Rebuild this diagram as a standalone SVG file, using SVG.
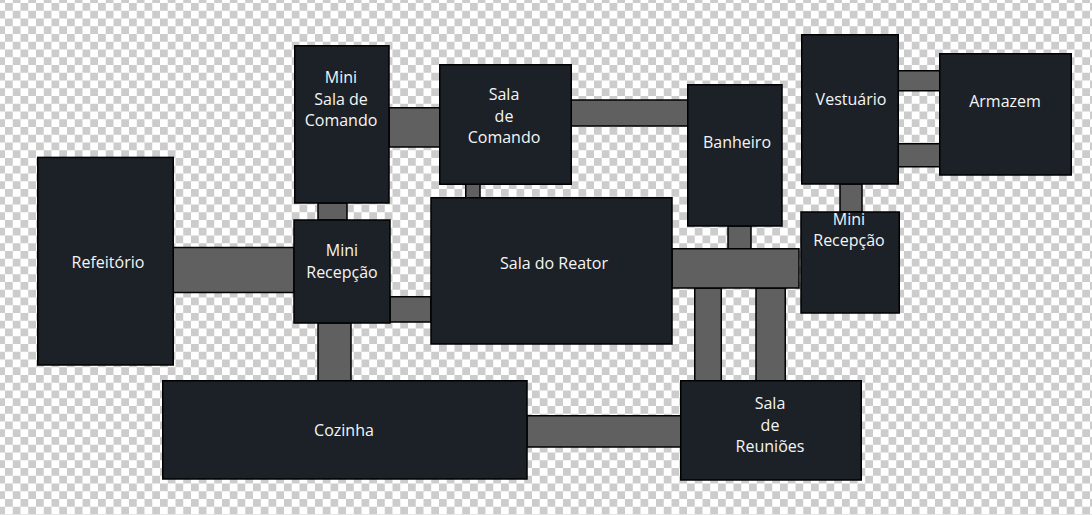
<svg xmlns="http://www.w3.org/2000/svg" width="1092" height="515" viewBox="0 0 1092 515">
<style>
.room{fill:#1c2128;stroke:#000;stroke-width:1.5}
.link{fill:#606060;stroke:#000;stroke-width:1.5}
text{font-family:"Open Sans","Noto Sans",sans-serif;font-size:16px;fill:#f5f5f5;text-anchor:middle}
</style>
<defs>
<pattern id="chk" x="5" y="3" width="15.5" height="15.5" patternUnits="userSpaceOnUse">
<rect width="15.5" height="15.5" fill="#fff"/>
<rect width="7.75" height="7.75" fill="#ccc"/>
<rect x="7.75" y="7.75" width="7.75" height="7.75" fill="#ccc"/>
</pattern>
</defs>
<rect width="1092" height="515" fill="url(#chk)"/>
<g id="connectors">
<rect class="link" x="172" y="247.500" width="122" height="45"/>
<rect class="link" x="318" y="203" width="29" height="17"/>
<rect class="link" x="389" y="107.750" width="51" height="39.250"/>
<rect class="link" x="465.750" y="184" width="14.250" height="14"/>
<rect class="link" x="390" y="296.750" width="41" height="25.250"/>
<rect class="link" x="318" y="323" width="33" height="58"/>
<rect class="link" x="571" y="100" width="117" height="26"/>
<rect class="link" x="728" y="226" width="23" height="23"/>
<rect class="link" x="694.750" y="288" width="26.500" height="93"/>
<rect class="link" x="756" y="288" width="29.250" height="93"/>
<rect class="link" x="672" y="248.750" width="127" height="39.250"/>
<rect class="link" x="840" y="184" width="22" height="28"/>
<rect class="link" x="898" y="70.750" width="42" height="20"/>
<rect class="link" x="898" y="143.750" width="42" height="23"/>
<rect class="link" x="527" y="415.750" width="154" height="31.250"/>
</g>
<g id="refeitorio"><rect class="room" x="37.750" y="157.400" width="135.500" height="207.600"/><text x="108" y="268">Refeitório</text></g>
<g id="mini-sala-comando"><rect class="room" x="294.750" y="45.750" width="94.250" height="157.250"/><text x="341" y="83">Mini</text><text x="341" y="105">Sala de</text><text x="341" y="126">Comando</text></g>
<g id="mini-recepcao-1"><rect class="room" x="294" y="220" width="96" height="103"/><text x="342" y="256">Mini</text><text x="342" y="278">Recepção</text></g>
<g id="sala-comando"><rect class="room" x="439.750" y="64.750" width="131.500" height="119.500"/><text x="504" y="100">Sala</text><text x="504" y="122">de</text><text x="504" y="143">Comando</text></g>
<g id="sala-reator"><rect class="room" x="431" y="197.750" width="241" height="146.250"/><text x="554" y="269">Sala do Reator</text></g>
<g id="banheiro"><rect class="room" x="687.750" y="84.750" width="94.250" height="141.250"/><text x="737" y="148">Banheiro</text></g>
<g id="vestuario"><rect class="room" x="801.750" y="34.750" width="96.500" height="149.250"/><text x="851" y="105">Vestuário</text></g>
<g id="armazem"><rect class="room" x="939.750" y="53.750" width="131.500" height="121.250"/><text x="1005" y="107">Armazem</text></g>
<g id="mini-recepcao-2"><rect class="room" x="801" y="212" width="98.250" height="101"/><text x="849" y="225">Mini</text><text x="849" y="246">Recepção</text></g>
<g id="cozinha"><rect class="room" x="162.750" y="380.750" width="364.250" height="98.250"/><text x="344" y="436">Cozinha</text></g>
<g id="sala-reunioes"><rect class="room" x="680.750" y="380.750" width="180.500" height="99.250"/><text x="770" y="409">Sala</text><text x="770" y="431">de</text><text x="770" y="452">Reuniões</text></g>
</svg>
